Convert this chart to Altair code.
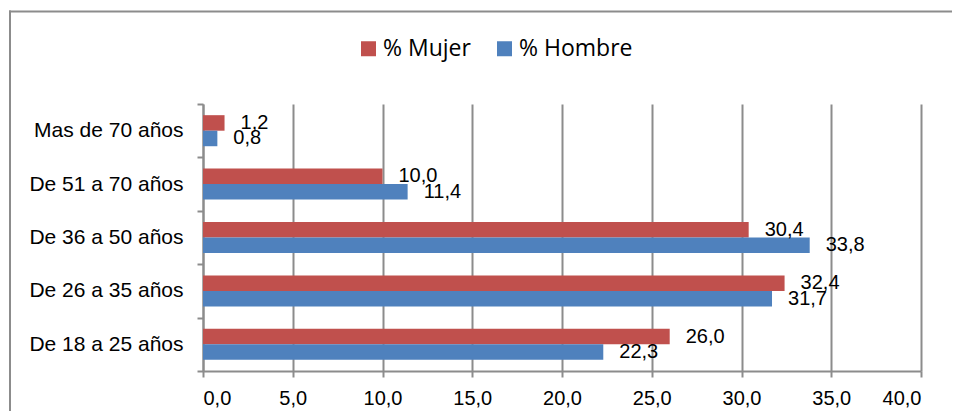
import altair as alt
import pandas as pd

categories = ["Mas de 70 años", "De 51 a 70 años", "De 36 a 50 años",
              "De 26 a 35 años", "De 18 a 25 años"]
series = ["% Mujer", "% Hombre"]
mujer = [1.2, 10.0, 30.4, 32.4, 26.0]
hombre = [0.8, 11.4, 33.8, 31.7, 22.3]
x_ticks = [0, 5, 10, 15, 20, 25, 30, 35, 40]
colors = ["#C0504D", "#4F81BD"]

rows = []
for c, m, h in zip(categories, mujer, hombre):
    rows.append({"cat": c, "serie": series[0], "val": m})
    rows.append({"cat": c, "serie": series[1], "val": h})
df = pd.DataFrame(rows)

GRAY = "#8c8c8c"
FONT = "Liberation Sans"

y_enc = alt.Y("cat:N", sort=categories,
              scale=alt.Scale(paddingInner=0, paddingOuter=0),
              axis=alt.Axis(title=None, tickBand="extent", grid=False,
                            domainColor=GRAY, domainWidth=2, tickColor=GRAY,
                            tickWidth=2, tickSize=6, labelPadding=14,
                            labelFontSize=21, labelFont=FONT, labelColor="black"))
x_enc = alt.X("val:Q", scale=alt.Scale(domain=[0, 40], nice=False),
              axis=alt.Axis(title=None, values=x_ticks,
                            labelExpr="replace(format(datum.value, '.1f'), '.', ',')",
                            grid=True, gridColor=GRAY, gridWidth=2,
                            domainColor=GRAY, domainWidth=2, tickColor=GRAY,
                            tickWidth=2, tickSize=6, labelPadding=11,
                            labelFontSize=20, labelFont=FONT, labelColor="black"))
yoff = alt.YOffset("serie:N", sort=series,
                   scale=alt.Scale(domain=series, paddingInner=0, paddingOuter=0.72))

base = alt.Chart(df)

bars = base.mark_bar().encode(
    y=y_enc,
    x=x_enc,
    yOffset=yoff,
    color=alt.Color("serie:N", sort=series,
                    scale=alt.Scale(domain=series, range=colors),
                    legend=alt.Legend(title=None, orient="none", direction="horizontal",
                                      legendX=154, legendY=-67, symbolType="square",
                                      symbolSize=225, symbolStrokeWidth=0,
                                      labelFont="Open Sans", labelFontSize=23,
                                      labelColor="black", columnPadding=22,
                                      symbolOffset=0, labelOffset=3)),
)

labels = base.transform_calculate(
    lab="replace(format(datum.val, '.1f'), '.', ',')"
).mark_text(align="left", baseline="middle", dx=16, fontSize=20,
            font=FONT, color="black").encode(
    y=alt.Y("cat:N", sort=categories),
    x=alt.X("val:Q"),
    yOffset=yoff,
    text="lab:N",
)

frame_df = pd.DataFrame({"a": [0]})
frame_top = alt.Chart(frame_df).mark_rule(stroke=GRAY, strokeWidth=2).encode(
    x=alt.value(-194), x2=alt.value(800), y=alt.value(-92.5),
)
frame_left = alt.Chart(frame_df).mark_rule(stroke=GRAY, strokeWidth=2).encode(
    x=alt.value(-193), y=alt.value(-93.5), y2=alt.value(330),
)

chart = alt.layer(frame_top, frame_left, bars, labels).properties(
    width=718, height=267,
    autosize=alt.AutoSizeParams(type="none"),
    padding={"left": 195, "top": 96, "right": 31, "bottom": 40},
).configure_view(stroke=None)

chart.save("out.html", embed_options={"renderer": "svg", "actions": False})
